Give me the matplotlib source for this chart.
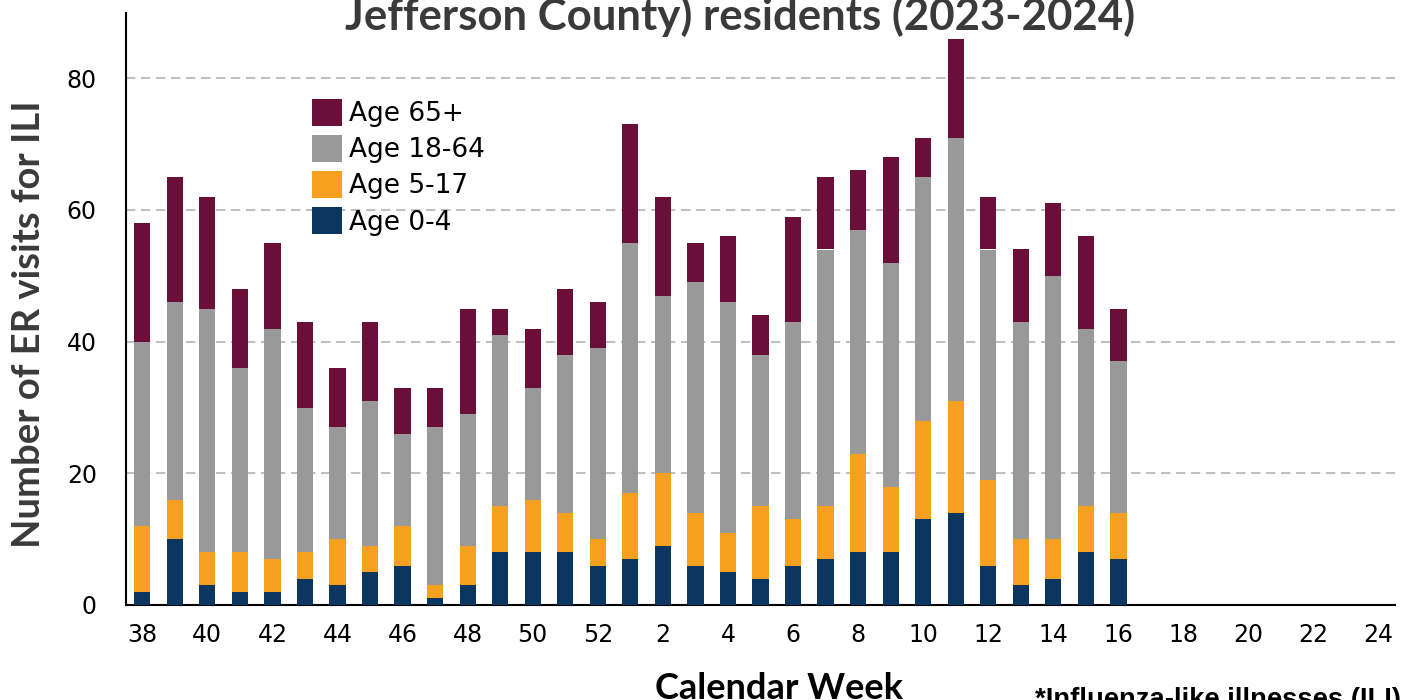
import matplotlib
matplotlib.use("Agg")
import matplotlib.pyplot as plt
import numpy as np

weeks = [38, 39, 40, 41, 42, 43, 44, 45, 46, 47, 48, 49, 50, 51, 52,
         1, 2, 3, 4, 5, 6, 7, 8, 9, 10, 11, 12, 13, 14, 15, 16, 17, 18,
         19, 20, 21, 22, 23, 24]

age_0_4 = [2, 10, 3, 2, 2, 4, 3, 5, 6, 1, 3, 8, 8, 8, 6,
           7, 9, 6, 5, 4, 6, 7, 8, 8, 13, 14, 6, 3, 4, 8, 7]
age_5_17 = [10, 6, 5, 6, 5, 4, 7, 4, 6, 2, 6, 7, 8, 6, 4,
            10, 11, 8, 6, 11, 7, 8, 15, 10, 15, 17, 13, 7, 6, 7, 7]
age_18_64 = [28, 30, 37, 28, 35, 22, 17, 22, 14, 24, 20, 26, 17, 24, 29,
             38, 27, 35, 35, 23, 30, 39, 34, 34, 37, 40, 35, 33, 40, 27, 23]
age_65 = [18, 19, 17, 12, 13, 13, 9, 12, 7, 6, 16, 4, 9, 10, 7,
          18, 15, 6, 10, 6, 16, 11, 9, 16, 6, 15, 8, 11, 11, 14, 8]

series_labels = ["Age 0-4", "Age 5-17", "Age 18-64", "Age 65+"]
colors = ["#0a3660", "#f7a01f", "#999999", "#6b0f3a"]

title_text = "Jefferson County) residents (2023-2024)"
ylabel_text = "Number of ER visits for ILI"
xlabel_text = "Calendar Week"
footnote_text = "*Influenza-like illnesses (ILI)"

plt.rcParams['font.family'] = ['Lato', 'DejaVu Sans']

W, H = 1407, 700
fig = plt.figure(figsize=(W / 100, H / 100), dpi=100)
ax = fig.add_axes([126/W, 95/H, (1395-126)/W, (605-12.5)/H])

n = len(age_0_4)
x = np.arange(n)
bottom = np.zeros(n)
handles = []
for vals, lab, col in zip([age_0_4, age_5_17, age_18_64, age_65], series_labels, colors):
    v = np.array(vals, dtype=float)
    h = ax.bar(x, v, width=0.5, bottom=bottom, color=col, label=lab, zorder=3)
    handles.append(h)
    bottom += v

ax.set_xlim(-0.5, len(weeks) - 0.5)
ax.set_ylim(0, 90)
ax.set_yticks([0, 20, 40, 60, 80])
ax.yaxis.grid(True, color="#c0c0c0", linestyle=(0, (4.5, 2.7)), linewidth=1.5, zorder=0)
ax.set_axisbelow(True)

tick_pos = list(range(0, len(weeks), 2))
ax.set_xticks(tick_pos)
ax.set_xticklabels([str(weeks[i]) for i in tick_pos])
ax.tick_params(axis="x", length=0, pad=13, labelsize=17)
ax.tick_params(axis="y", length=0, pad=21, labelsize=17)
for lbl in ax.get_xticklabels() + ax.get_yticklabels():
    lbl.set_family(["DejaVu Sans"])

for s in ["top", "right"]:
    ax.spines[s].set_visible(False)
for s in ["left", "bottom"]:
    ax.spines[s].set_linewidth(1.5)
    ax.spines[s].set_color("black")

leg = ax.legend(handles[::-1], series_labels[::-1], loc="upper left",
                bbox_to_anchor=(312/W, (H-99)/H), bbox_transform=fig.transFigure,
                frameon=False, prop={"family": ["DejaVu Sans"], "size": 19},
                handlelength=1.14, handleheight=1.17,
                labelspacing=0.3, handletextpad=0.28, borderpad=0, borderaxespad=0)

fig.text(740/W, (H-30)/H, title_text, ha="center", va="baseline",
         fontsize=31.5, fontweight="bold", color="#3a3a3a")

# y label: fit its length to the reference span (pixels from top: 100 .. 548)
ytxt = fig.text(29/W, (H-324)/H, ylabel_text, ha="center", va="center", rotation=90,
                fontsize=24, fontweight="bold", color="#3a3a3a")
renderer = fig.canvas.get_renderer()
for _ in range(3):
    bb = ytxt.get_window_extent(renderer)
    ytxt.set_fontsize(ytxt.get_fontsize() * (548 - 100) / bb.height)
bb = ytxt.get_window_extent(renderer)
cy = (bb.y0 + bb.y1) / 2
ytxt.set_y(ytxt.get_position()[1] + ((H - 324) - cy) / H)

fig.text(779/W, (H-699)/H, xlabel_text, ha="center", va="baseline",
         fontsize=26, fontweight="bold", color="black")
fig.text(1035/W, (H-707)/H, footnote_text, ha="left", va="baseline",
         fontsize=19.7, fontweight="bold", color="black",
         family=["Liberation Sans", "DejaVu Sans"])

fig.savefig("out.png", dpi=100)
